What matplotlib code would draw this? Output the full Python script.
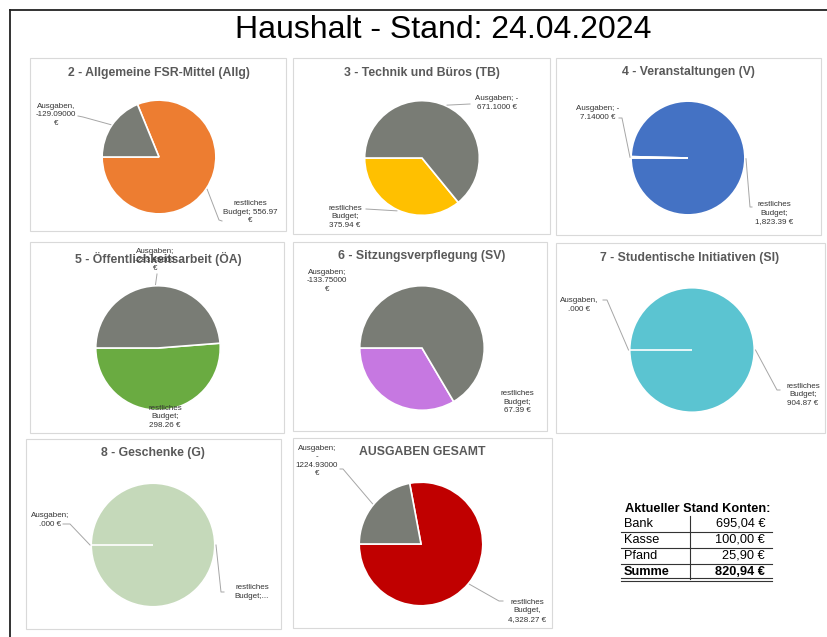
import numpy as np
import matplotlib.pyplot as plt
from matplotlib.patches import Rectangle
from matplotlib.lines import Line2D

plt.rcParams['font.family'] = ['Liberation Sans', 'DejaVu Sans']

W, H = 827, 637

# --- Daten ---
titel = ['2 - Allgemeine FSR-Mittel (Allg)', '3 - Technik und Büros (TB)',
         '4 - Veranstaltungen (V)', '5 - Öffentlichkeitsarbeit (ÖA)',
         '6 - Sitzungsverpflegung (SV)', '7 - Studentische Initiativen (SI)',
         '8 - Geschenke (G)', 'AUSGABEN GESAMT']
ausgaben = [129.09, 671.10, 7.14, 283.85, 133.75, 0.0, 0.0, 1224.93]
restbudget = [556.97, 375.94, 1823.39, 298.26, 67.39, 904.87, 301.45, 4328.27]
farben = ['#ED7D31', '#FFC000', '#4472C4', '#6AAB41', '#C678E1', '#5BC4D1',
          '#C5D9BA', '#C00000']
grau = '#797C75'

label_ausgaben = ['Ausgaben,\n-129.09000\n€', 'Ausgaben; -\n671.1000 €',
                  'Ausgaben; -\n7.14000 €', 'Ausgaben;\n-283.85000\n€',
                  'Ausgaben;\n-133.75000\n€', 'Ausgaben,\n.000 €',
                  'Ausgaben;\n.000 €', 'Ausgaben;\n-\n1224.93000\n€']
label_rest = ['restliches\nBudget; 556.97\n€', 'restliches\nBudget;\n375.94 €',
              'restliches\nBudget;\n1,823.39 €', 'restliches\nBudget;\n298.26 €',
              'restliches\nBudget;\n67.39 €', 'restliches\nBudget;\n904.87 €',
              'restliches\nBudget;...', 'restliches\nBudget,\n4,328.27 €']

konten = ['Bank', 'Kasse', 'Pfand']
kontostand = [695.04, 100.00, 25.90]

# --- Layout (Pixel) ---
boxen = [(30, 58, 286, 231), (293, 58, 550, 234), (556, 58, 821, 235),
         (30, 242, 284, 433), (293, 242, 547, 431), (556, 243, 825, 433),
         (26, 439, 281, 629), (293, 438, 552, 628)]
kreise = [(159, 157, 58), (422, 158, 58.5), (688, 158, 58),
          (158, 348, 63.5), (422, 348, 63.5), (692, 350, 63.5),
          (153, 545, 63), (421, 544, 63)]
titel_pos = [(159, 73), (422, 73), (688, 72), (158, 259), (422, 256),
             (690, 258), (153, 453), (422, 452)]
pos_a = [(56, 115), (497, 103), (598, 113), (155, 260), (327, 281),
         (579, 305), (50, 520), (317, 461)]
pos_r = [(250, 212), (345, 217), (774, 213), (165, 417), (517, 402),
         (803, 395), (252, 592), (527, 611)]
leit_a = [[(78, 116), (83, 117)], [(470, 104)], [(619, 118), (622, 118)],
          [(157, 274)], None, [(603, 300), (607, 300)],
          [(63, 524), (70, 524)], [(340, 469), (343, 469)]]
leit_r = [[(222, 221), (219, 220)], [(366, 209)], [(752, 207), (750, 207)],
          None, None, [(780, 390), (777, 390)],
          [(224, 592), (221, 592)], [(503, 601), (499, 601)]]


def f(x, y):
    return x / W, 1 - y / H


fig = plt.figure(figsize=(W / 100, H / 100), dpi=100)

# Rahmen
fig.add_artist(Line2D([f(10, 10)[0], 1], [f(10, 10)[1]] * 2, color='#222222', lw=1.3))
fig.add_artist(Line2D([f(10, 10)[0]] * 2, [f(10, 10)[1], 0], color='#222222', lw=1.3))

fig.text(*f(443, 30), 'Haushalt - Stand: 24.04.2024', fontsize=23,
         ha='center', va='center', color='black')

for i in range(len(titel)):
    x0, y0, x1, y1 = boxen[i]
    fig.add_artist(Rectangle(f(x0, y1), (x1 - x0) / W, (y1 - y0) / H,
                             transform=fig.transFigure, fill=False,
                             edgecolor='#D9D9D9', lw=0.8))
    cx, cy, r = kreise[i]
    ax = fig.add_axes([(cx - r) / W, 1 - (cy + r) / H, 2 * r / W, 2 * r / H])
    wedges, _ = ax.pie([ausgaben[i], restbudget[i]], colors=[grau, farben[i]],
                       startangle=180, counterclock=False, radius=1,
                       wedgeprops=dict(edgecolor='white', linewidth=1.2))
    wedges[0].set_zorder(3)
    ax.set_xlim(-1.02, 1.02)
    ax.set_ylim(-1.02, 1.02)
    ax.axis('off')

    fig.text(*f(*titel_pos[i]), titel[i], fontsize=8.8, fontweight='bold',
             color='#595959', ha='center', va='center', zorder=1)

    for w, pos, txt, leit in [(wedges[0], pos_a[i], label_ausgaben[i], leit_a[i]),
                              (wedges[1], pos_r[i], label_rest[i], leit_r[i])]:
        fig.text(*f(*pos), txt, fontsize=5.8, color='#333333', ha='center',
                 va='center', linespacing=1.25, zorder=5)
        if leit:
            mid = np.deg2rad((w.theta1 + w.theta2) / 2)
            pts = leit + [(cx + r * np.cos(mid), cy - r * np.sin(mid))]
            xs = [p[0] / W for p in pts]
            ys = [1 - p[1] / H for p in pts]
            fig.add_artist(Line2D(xs, ys, color='#A6A6A6', lw=0.7, zorder=4))

# Tabelle Kontostand
fig.text(*f(698, 509), 'Aktueller Stand Konten:', fontsize=9.2,
         fontweight='bold', ha='center', va='center')
zeilen = konten + ['Summe']
werte = kontostand + [sum(kontostand)]
for j, (k, v) in enumerate(zip(zeilen, werte)):
    y = 524 + j * 16
    fw = 'bold' if k == 'Summe' else 'normal'
    fig.text(*f(624, y), k, fontsize=9.2, ha='left', va='center', fontweight=fw)
    betrag = f'{v:,.2f} €'.replace(',', 'X').replace('.', ',').replace('X', '.')
    fig.text(*f(765, y), betrag, fontsize=9.2, ha='right', va='center', fontweight=fw)
    if j < 3:
        yl = y + 8
        fig.add_artist(Line2D([621 / W, 772 / W], [1 - yl / H] * 2, color='#333333', lw=0.8))
for yl in (578, 580.5):
    fig.add_artist(Line2D([621 / W, 772 / W], [1 - yl / H] * 2, color='#333333', lw=0.8))
fig.add_artist(Line2D([690 / W] * 2, [1 - 516 / H, 1 - 579 / H], color='#333333', lw=0.8))

plt.savefig('out.png', dpi=100)
